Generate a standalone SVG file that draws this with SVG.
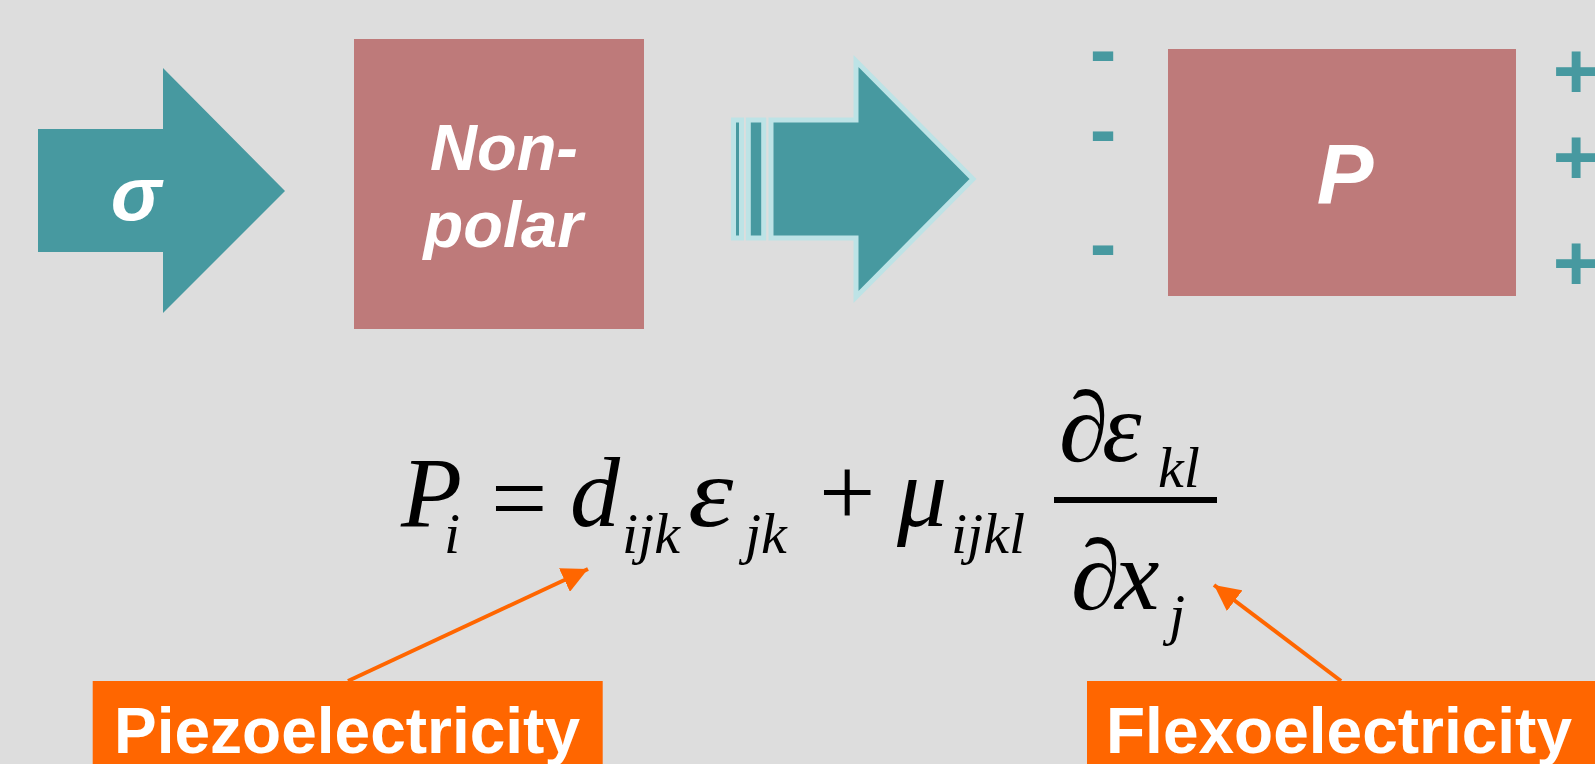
<svg xmlns="http://www.w3.org/2000/svg" width="1595" height="764" viewBox="0 0 1595 764">
<defs>
<style>
.teal{fill:#4799A0}
.pink{fill:#BE7A7A}
.wt{fill:#FFFFFF;font-family:"Liberation Sans",Arial,sans-serif;font-weight:bold;font-style:italic;text-anchor:middle}
.sign{fill:#4799A0;font-family:"Liberation Sans",Arial,sans-serif;font-weight:bold;font-size:80px;text-anchor:middle}
.m{fill:#000;font-family:"Liberation Serif","Times New Roman",serif;font-style:italic;font-size:100px}
.mu{fill:#000;font-family:"Liberation Serif","Times New Roman",serif;font-size:100px}
.s{fill:#000;font-family:"Liberation Serif","Times New Roman",serif;font-style:italic;font-size:58px}
.lbl{fill:#FF6600}
.lt{fill:#FFFFFF;font-family:"Liberation Sans",Arial,sans-serif;font-weight:bold;font-size:64px;text-anchor:middle}
.conn{stroke:#FF6600;stroke-width:4;fill:none}
.stripe{fill:#4799A0;stroke:#BDE3E6;stroke-width:5}
</style>
<marker id="ah" viewBox="0 0 10 10" refX="10" refY="5" markerWidth="6.5" markerHeight="6.5" markerUnits="strokeWidth" orient="auto">
<path d="M0,0 L10,5 L0,10 z" fill="#FF6600"/>
</marker>
</defs>
<rect width="1595" height="764" fill="#DDDDDD"/>

<g id="stress-arrow">
<polygon class="teal" points="38,129 163,129 163,68 285,191 163,313 163,252 38,252"/>
<text class="wt" x="136" y="220" font-size="76">σ</text>
</g>

<g id="nonpolar">
<rect class="pink" x="354" y="39" width="290" height="290"/>
<text class="wt" x="504" y="170" font-size="65">Non-</text>
<text class="wt" x="503" y="247" font-size="65">polar</text>
</g>

<g id="striped-arrow">
<rect class="stripe" x="733.5" y="120" width="8" height="118"/>
<rect class="stripe" x="748.3" y="120" width="15.4" height="118"/>
<polygon class="stripe" points="771,120 856,120 856,61 973,179 856,297 856,238 771,238"/>
</g>

<g id="polar">
<text class="sign" x="1103" y="77">-</text>
<text class="sign" x="1103" y="157">-</text>
<text class="sign" x="1103" y="271">-</text>
<rect class="pink" x="1168" y="49" width="348" height="247"/>
<text class="wt" x="1345" y="204" font-size="85">P</text>
<text class="sign" x="1576" y="98">+</text>
<text class="sign" x="1576" y="184">+</text>
<text class="sign" x="1576" y="290">+</text>
</g>

<g id="equation">
<text class="m" x="401" y="526">P</text>
<text class="s" x="444" y="553">i</text>
<text class="mu" x="491" y="532">=</text>
<text class="m" x="570" y="526">d</text>
<text class="s" x="622" y="553">ijk</text>
<text class="m" x="688" y="526" transform="translate(688 0) scale(1.15 1) translate(-688 0)">ε</text>
<text class="s" x="745" y="553">jk</text>
<text class="mu" x="819" y="526">+</text>
<text class="m" x="897" y="526">μ</text>
<text class="s" x="951" y="553">ijkl</text>
<rect x="1054" y="497" width="163" height="6" fill="#000"/>
<text class="m" x="1059" y="461">∂</text>
<text class="m" x="1102" y="461">ε</text>
<text class="s" x="1158" y="487">kl</text>
<text class="m" x="1071" y="609">∂</text>
<text class="m" x="1115" y="609">x</text>
<text class="s" x="1169" y="634">j</text>
</g>

<g id="connectors">
<line class="conn" x1="348" y1="681" x2="588" y2="569" marker-end="url(#ah)"/>
<line class="conn" x1="1341" y1="681" x2="1214" y2="585" marker-end="url(#ah)"/>
</g>

<g id="piezo-label">
<rect class="lbl" x="92.7" y="681" width="510" height="83"/>
<text class="lt" x="347" y="753">Piezoelectricity</text>
</g>

<g id="flexo-label">
<rect class="lbl" x="1087" y="681" width="508" height="83"/>
<text class="lt" x="1339" y="753">Flexoelectricity</text>
</g>
</svg>
